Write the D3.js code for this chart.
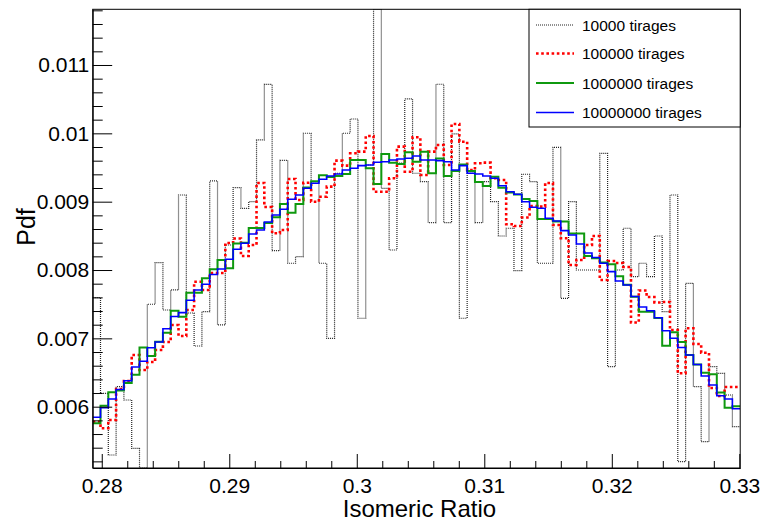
<!DOCTYPE html>
<html><head><meta charset="utf-8">
<script src="https://cdn.jsdelivr.net/npm/d3@7/dist/d3.min.js"></script>
<style>body{margin:0;background:#fff}svg{display:block}text{font-family:"Liberation Sans",Arial,Helvetica,sans-serif}</style>
</head><body>
<script>
// ---- data ----
const binLow = 0.27929;
const binWidth = 0.0006118;
const seriesNames = ["10000 tirages", "100000 tirages", "1000000 tirages", "10000000 tirages"];
const xTickValues = [0.28, 0.29, 0.30, 0.31, 0.32, 0.33];
const xTickLabels = ["0.28", "0.29", "0.3", "0.31", "0.32", "0.33"];
const yTickValues = [0.006, 0.007, 0.008, 0.009, 0.010, 0.011];
const yTickLabels = ["0.006", "0.007", "0.008", "0.009", "0.01", "0.011"];
const yMin = 0.005103, yMax = 0.011815;

const pdf10k = [0.007595,0.006196,0.005293,0.006293,0.006098,0.005391,0.005103,0.007499,0.008107,0.007415,
0.007708,0.009098,0.007371,0.006888,0.007390,0.009303,0.007196,0.008366,0.009205,0.008903,
0.009000,0.009903,0.010715,0.008283,0.009603,0.008099,0.008195,0.010001,0.009293,0.008099,
0.007001,0.009416,0.010001,0.010210,0.007294,0.009537,0.011815,0.009196,0.008293,0.009566,
0.010503,0.009416,0.009293,0.008693,0.010718,0.008693,0.009991,0.007294,0.009416,0.008693,
0.009293,0.009000,0.008498,0.008611,0.007990,0.009401,0.009293,0.008099,0.008099,0.009796,
0.007586,0.009000,0.008000,0.008000,0.008000,0.009708,0.006585,0.008000,0.008611,0.007902,
0.008099,0.007902,0.008498,0.007390,0.009098,0.005195,0.007806,0.006293,0.005488,0.006585,
0.006489,0.006171,0.005707];

const pdf100k = [0.005780,0.005684,0.005805,0.006259,0.006376,0.006757,0.006537,0.006654,0.006830,0.006947,
0.007196,0.007035,0.007415,0.007829,0.007708,0.007957,0.007957,0.008396,0.008461,0.008205,
0.008366,0.009274,0.008922,0.008538,0.008586,0.009332,0.009025,0.009278,0.009000,0.009073,
0.009220,0.009600,0.009527,0.009708,0.009732,0.009961,0.009146,0.009146,0.009342,0.009805,
0.009439,0.009942,0.009391,0.009732,0.009830,0.009537,0.010137,0.009878,0.009464,0.009562,
0.009571,0.009342,0.009318,0.008669,0.008644,0.008769,0.008937,0.008927,0.009274,0.008659,
0.008464,0.008074,0.008147,0.008366,0.008498,0.007854,0.008132,0.008103,0.008044,0.007232,
0.007700,0.007605,0.007525,0.007532,0.007122,0.006489,0.007147,0.006918,0.006790,0.006274,
0.006157,0.006288,0.006288];

const pdf1M = [0.005757,0.006015,0.006211,0.006237,0.006347,0.006468,0.006866,0.006742,0.006951,0.007083,
0.007405,0.007317,0.007668,0.007668,0.007879,0.008011,0.008147,0.008025,0.008388,0.008400,
0.008615,0.008615,0.008688,0.008772,0.008966,0.008839,0.008966,0.009208,0.009298,0.009388,
0.009361,0.009376,0.009405,0.009610,0.009610,0.009489,0.009259,0.009698,0.009571,0.009552,
0.009723,0.009585,0.009732,0.009416,0.009632,0.009376,0.009449,0.009544,0.009449,0.009288,
0.009230,0.009366,0.009205,0.009135,0.009105,0.009039,0.009010,0.008747,0.008747,0.008710,
0.008710,0.008535,0.008535,0.008205,0.008172,0.008110,0.008084,0.007908,0.007785,0.007610,
0.007390,0.007390,0.007298,0.006893,0.007089,0.006947,0.006757,0.006618,0.006498,0.006474,
0.006208,0.005984,0.006006];

const pdf10M = [0.005845,0.005985,0.006113,0.006252,0.006380,0.006581,0.006664,0.006863,0.006947,0.007141,
0.007320,0.007376,0.007557,0.007708,0.007791,0.007935,0.008015,0.008157,0.008303,0.008391,
0.008527,0.008586,0.008703,0.008805,0.008889,0.009035,0.009098,0.009196,0.009269,0.009328,
0.009376,0.009405,0.009464,0.009489,0.009527,0.009537,0.009577,0.009585,0.009610,0.009625,
0.009635,0.009669,0.009610,0.009610,0.009600,0.009585,0.009464,0.009527,0.009416,0.009405,
0.009376,0.009342,0.009234,0.009146,0.009108,0.009000,0.008918,0.008903,0.008757,0.008718,
0.008576,0.008513,0.008381,0.008249,0.008183,0.008099,0.007976,0.007839,0.007781,0.007613,
0.007459,0.007403,0.007302,0.007112,0.007001,0.006866,0.006757,0.006618,0.006449,0.006318,
0.006160,0.006113,0.005971];

// ---- layout ----
const W = 760, H = 521;
const L = 92.7, R = 740.2, T = 9.3, B = 468;
const nBins = pdf10M.length;
const x = d3.scaleLinear().domain([binLow, binLow + nBins * binWidth]).range([L, R]);
const y = d3.scaleLinear().domain([yMin, yMax]).range([B, T]);

const svg = d3.select("body").append("svg").attr("width", W).attr("height", H);
svg.append("rect").attr("width", W).attr("height", H).attr("fill", "#fff");

svg.append("defs").append("clipPath").attr("id", "plotclip")
  .append("rect").attr("x", L).attr("y", T).attr("width", R - L).attr("height", B - T);

const styles = [
  {data: pdf10k, color: "#222", width: 1.2, dash: "1,1"},
  {data: pdf100k, color: "#ff0000", width: 2.6, dash: "2.6,2.6"},
  {data: pdf1M, color: "#0f990f", width: 2, dash: null},
  {data: pdf10M, color: "#0000ff", width: 1.6, dash: null}
];

const line = d3.line().x(d => x(d[0])).y(d => y(d[1])).curve(d3.curveStepAfter);
const g = svg.append("g").attr("clip-path", "url(#plotclip)");
styles.forEach(s => {
  const pts = s.data.map((v, i) => [binLow + i * binWidth, v]);
  pts.push([binLow + nBins * binWidth, s.data[nBins - 1]]);
  g.append("path").attr("d", line(pts)).attr("fill", "none")
    .attr("stroke", s.color).attr("stroke-width", s.width)
    .attr("stroke-dasharray", s.dash);
});

// ---- axes ----
const fontSize = 21;
const xMinor = d3.range(0.28, 0.3301, 0.002).filter(v => !xTickValues.some(t => Math.abs(t - v) < 1e-6));
svg.append("g").attr("transform", `translate(0,${B})`)
  .call(d3.axisBottom(x).tickValues(xMinor).tickSize(-7).tickSizeOuter(0).tickFormat(""))
  .call(a => a.select(".domain").remove());
const xAxis = svg.append("g").attr("transform", `translate(0,${B})`)
  .call(d3.axisBottom(x).tickValues(xTickValues).tickSize(-14).tickSizeOuter(0).tickPadding(10)
    .tickFormat((d, i) => xTickLabels[i]));
xAxis.selectAll("text").attr("font-size", fontSize).attr("fill", "#000")
  .style("font-family", '"Liberation Sans",Arial,sans-serif');

const yMinor = d3.range(0.0052, 0.01181, 0.0002).filter(v => !yTickValues.some(t => Math.abs(t - v) < 1e-7));
svg.append("g").attr("transform", `translate(${L},0)`)
  .call(d3.axisLeft(y).tickValues(yMinor).tickSize(-10).tickSizeOuter(0).tickFormat(""))
  .call(a => a.select(".domain").remove());
const yAxis = svg.append("g").attr("transform", `translate(${L},0)`)
  .call(d3.axisLeft(y).tickValues(yTickValues).tickSize(-19.5).tickSizeOuter(0).tickPadding(3.5)
    .tickFormat((d, i) => yTickLabels[i]));
yAxis.selectAll("text").attr("font-size", fontSize).attr("fill", "#000")
  .style("font-family", '"Liberation Sans",Arial,sans-serif');

svg.selectAll(".tick line").attr("stroke", "#000");

// frame
svg.append("rect").attr("x", L).attr("y", T).attr("width", R - L).attr("height", B - T)
  .attr("fill", "none").attr("stroke", "#000").attr("stroke-width", 1);

// titles
svg.append("text").attr("x", (L + R) / 2 + 3).attr("y", 517).attr("text-anchor", "middle")
  .attr("font-size", 24).text("Isomeric Ratio");
svg.append("text").attr("transform", "translate(35,227) rotate(-90)").attr("text-anchor", "middle")
  .attr("font-size", 25).text("Pdf");

// ---- legend ----
const lg = svg.append("g");
lg.append("rect").attr("x", 529).attr("y", T).attr("width", R - 529).attr("height", 127 - T)
  .attr("fill", "#fff").attr("stroke", "#000").attr("stroke-width", 1);
const rowsY = [25, 53.5, 83, 112.5];
styles.forEach((s, i) => {
  lg.append("line").attr("x1", 536).attr("x2", 574).attr("y1", rowsY[i]).attr("y2", rowsY[i])
    .attr("stroke", s.color).attr("stroke-width", s.width).attr("stroke-dasharray", s.dash);
  lg.append("text").attr("x", 582).attr("y", rowsY[i] + 5.5).attr("font-size", 15.5)
    .text(seriesNames[i]);
});
</script>
</body></html>
